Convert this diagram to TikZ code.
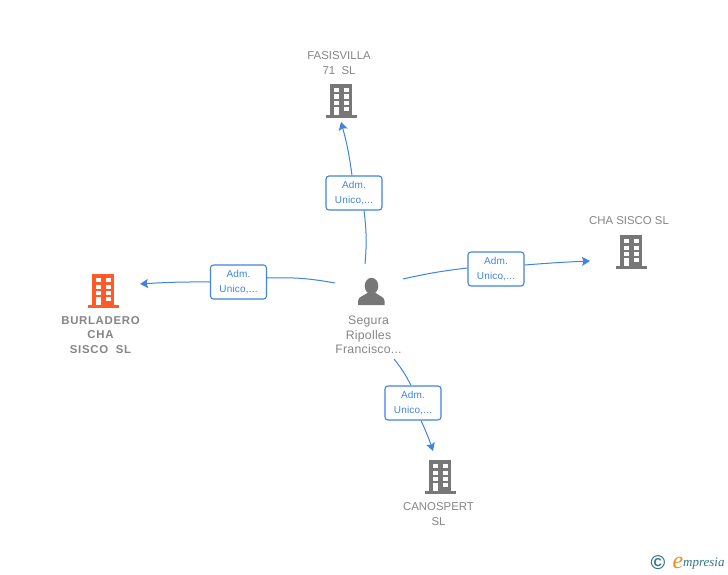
\documentclass[tikz,border=0pt]{standalone}
\usepackage{fontspec}
\setmainfont{Liberation Sans}
\newfontfamily\logofont{Liberation Serif}
\usepackage{tikz}
\usetikzlibrary{arrows.meta,positioning}
\definecolor{linkblue}{HTML}{3F84E0}
\definecolor{iconblack}{HTML}{777777}
\definecolor{labelgray}{HTML}{858585}
\definecolor{mainorange}{HTML}{FF5A28}
\definecolor{logoteal}{HTML}{2F7488}
\definecolor{logoorange}{HTML}{F08A1C}

\begin{document}
\begin{tikzpicture}[
x=1pt, y=-1pt, >={Stealth[length=8pt,width=9pt,inset=1.5pt]},
link/.style = {draw=linkblue, line width=1pt},
adm-node/.style = {rectangle,rounded corners=3pt,draw=linkblue,line width=1.1pt,fill=white,
  minimum width=56pt,minimum height=34pt,inner sep=0pt,align=center,text=linkblue,
  font=\fontsize{10}{15}\selectfont\addfontfeature{LetterSpace=2}},
name-node/.style = {align=center,text=labelgray,inner sep=0pt,font=\fontsize{11.4}{14.5}\selectfont},
person-name/.style = {name-node,font=\fontsize{12.3}{14.5}\selectfont\addfontfeature{LetterSpace=2}},
building/.pic = {
  \fill[pic actions] (-11,-17) rectangle (11,14);
  \fill[pic actions] (-15.5,14) rectangle (15.5,17);
  \foreach \wy in {-13,-6.5,0} {
    \fill[white] (-7,\wy) rectangle (-2.3,\wy+4.3);
    \fill[white] (3,\wy) rectangle (7.7,\wy+4.3);
  }
  \fill[white] (-7,6) rectangle (-2.3,14);
  \fill[white] (3,6) rectangle (7.7,10.3);
}
]
\useasboundingbox (0,0) rectangle (728,575);

% buildings
\pic[fill=iconblack] at (341,101) {building};
\pic[fill=iconblack] at (631,252) {building};
\pic[fill=iconblack] at (440,477) {building};
\pic[fill=mainorange] at (103,291) {building};

% person
\fill[iconblack] (371.5,286) ellipse (6.8 and 8.2);
\fill[iconblack] (358,305) -- (358,301) .. controls (358,296.5) and (364,296) .. (368,292.5)
  -- (375,292.5) .. controls (379,296) and (384.5,296.5) .. (384.5,301) -- (384.5,305) -- cycle;

% labels
\node [name-node] (fasisvilla) at (339,63) {FASISVILLA\\71\ \ SL};
\node [name-node] (chasisco) at (629,221) {CHA SISCO SL};
\node [name-node] (canospert) at (438.5,514) {CANOSPERT\\SL};
\node [name-node,font=\fontsize{11.4}{14.5}\selectfont\bfseries\addfontfeature{LetterSpace=6}] (burladero) at (100.5,335) {BURLADERO\\CHA\\SISCO\ \ SL};
\node [person-name] (segura) at (368.5,335) {Segura\\Ripolles\\Francisco...};

% boxes
\node [adm-node] (admtop) at (354,193) {Adm.\\Unico,...};
\node [adm-node] (admleft) at (238.5,282) {Adm.\\Unico,...};
\node [adm-node] (admright) at (496,269) {Adm.\\Unico,...};
\node [adm-node] (admdown) at (413,403) {Adm.\\Unico,...};

% free ends
\coordinate (topstart) at (365,264);
\coordinate (topend) at (341,122);
\coordinate (leftstart) at (335,283);
\coordinate (leftend) at (140,284);
\coordinate (rightstart) at (403,279);
\coordinate (rightend) at (590,261);
\coordinate (downstart) at (394,359);
\coordinate (downend) at (433,451);

% arrows
\draw[link] (topstart) to[bend right=6] (admtop.south -| 364,210);
\draw[link,->] (admtop.north -| 352,176) to[bend right=4] (topend);
\draw[link] (leftstart) to[bend right=6] (admleft.east |- 0,278);
\draw[link,->] (admleft.west |- 0,282) to[bend right=2] (leftend);
\draw[link] (rightstart) to[bend left=3] (admright.west |- 0,268);
\draw[link,->] (admright.east |- 0,265) to[bend left=1] (rightend);
\draw[link] (downstart) to[bend left=6] (admdown.north -| 411,386);
\draw[link,->] (admdown.south -| 421,420) to[bend left=3] (downend);

% logo
\node [inner sep=0pt,text=logoteal,font=\bfseries\fontsize{20}{20}\selectfont] (copyr) at (658,563) {©};
\node [inner sep=0pt,text=logoorange,font=\logofont\itshape\fontsize{24}{24}\selectfont] (logoe) at (678,563) {e};
\node [inner sep=0pt,anchor=west,text=logoteal,font=\logofont\itshape\fontsize{13}{13}\selectfont] (logotext) at (683,564) {mpresia};
\end{tikzpicture}
\end{document}
